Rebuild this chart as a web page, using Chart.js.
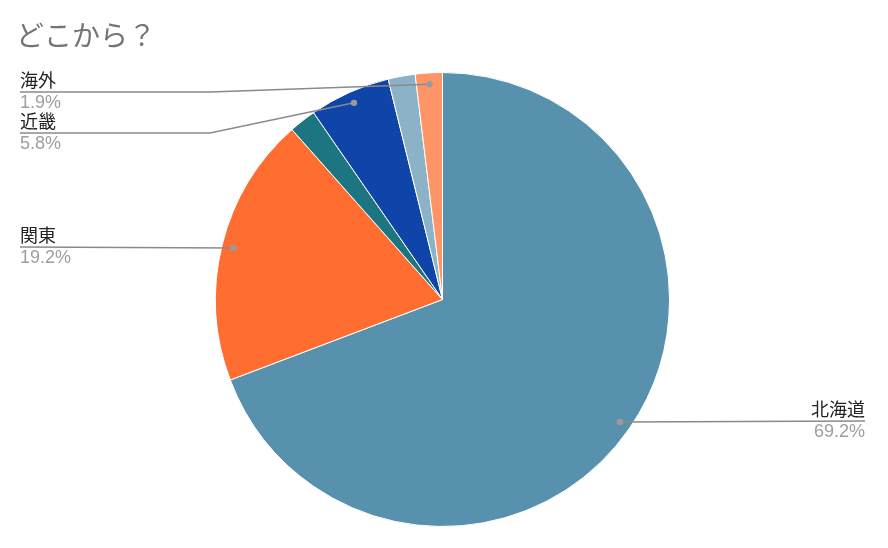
<!DOCTYPE html>
<html><head><meta charset="utf-8">
<script src="https://cdn.jsdelivr.net/npm/chart.js@4"></script>
<style>html,body{margin:0;padding:0;background:#fff}canvas{display:block}</style>
</head><body>
<canvas id="c" width="888" height="548"></canvas>
<script>
const titleText = "どこから？";
const categories = ["北海道", "関東", "東北", "近畿", "中部", "海外"];
const counts = [36, 10, 1, 3, 1, 1];
const colors = ["#5891AD", "#FF6D31", "#1C7580", "#0F45A8", "#8BB2C6", "#FF9466"];
const labeled = ["北海道", "関東", "近畿", "海外"];

const FONT = "Arial, 'Liberation Sans', 'Noto Sans CJK JP', sans-serif";
// label layout (positions only)
const labelLayout = {
  "海外": {side: "left", x: 20, lineY: 92, elbowX: 210},
  "近畿": {side: "left", x: 20, lineY: 133, elbowX: 210},
  "関東": {side: "left", x: 20, lineY: 247, elbowX: null},
  "北海道": {side: "right", x: 865, lineY: 421, elbowX: null}
};

const labelPlugin = {
  id: "leaderLabels",
  afterDraw(chart) {
    const ctx = chart.ctx;
    ctx.save();
    // title
    ctx.font = "28px " + FONT;
    ctx.fillStyle = "#757575";
    ctx.textBaseline = "alphabetic";
    ctx.textAlign = "left";
    ctx.fillText(titleText, 16, 46);

    const meta = chart.getDatasetMeta(0);
    const total = counts.reduce((a, b) => a + b, 0);
    labeled.forEach(name => {
      const i = categories.indexOf(name);
      const arc = meta.data[i];
      const p = arc.getProps(["x", "y", "startAngle", "endAngle", "outerRadius"], true);
      const mid = (p.startAngle + p.endAngle) / 2;
      const ax = p.x + Math.cos(mid) * p.outerRadius * 0.95;
      const ay = p.y + Math.sin(mid) * p.outerRadius * 0.95;
      const L = labelLayout[name];
      const pct = (counts[i] / total * 100).toFixed(1) + "%";
      ctx.strokeStyle = "#8a8a8a";
      ctx.lineWidth = 1.5;
      ctx.beginPath();
      ctx.moveTo(L.x, L.lineY);
      if (L.elbowX !== null) ctx.lineTo(L.elbowX, L.lineY);
      ctx.lineTo(ax, ay);
      ctx.stroke();
      ctx.fillStyle = "#9a9a9a";
      ctx.beginPath();
      ctx.arc(ax, ay, 3.2, 0, Math.PI * 2);
      ctx.fill();
      ctx.font = "18px " + FONT;
      ctx.textAlign = L.side === "left" ? "left" : "right";
      ctx.textBaseline = "alphabetic";
      ctx.fillStyle = "#222222";
      ctx.fillText(name, L.x, L.lineY - 5);
      ctx.textBaseline = "top";
      ctx.fillStyle = "#9e9e9e";
      ctx.fillText(pct, L.x, L.lineY + 2);
    });
    ctx.restore();
  }
};

new Chart(document.getElementById("c"), {
  type: "pie",
  data: {
    labels: categories,
    datasets: [{
      data: counts,
      backgroundColor: colors,
      borderColor: "#ffffff",
      borderWidth: 1
    }]
  },
  options: {
    responsive: false,
    animation: false,
    layout: {padding: {top: 72, bottom: 21, left: 0, right: 3}},
    plugins: {legend: {display: false}, tooltip: {enabled: false}, title: {display: false}}
  },
  plugins: [labelPlugin]
});
</script>
</body></html>
